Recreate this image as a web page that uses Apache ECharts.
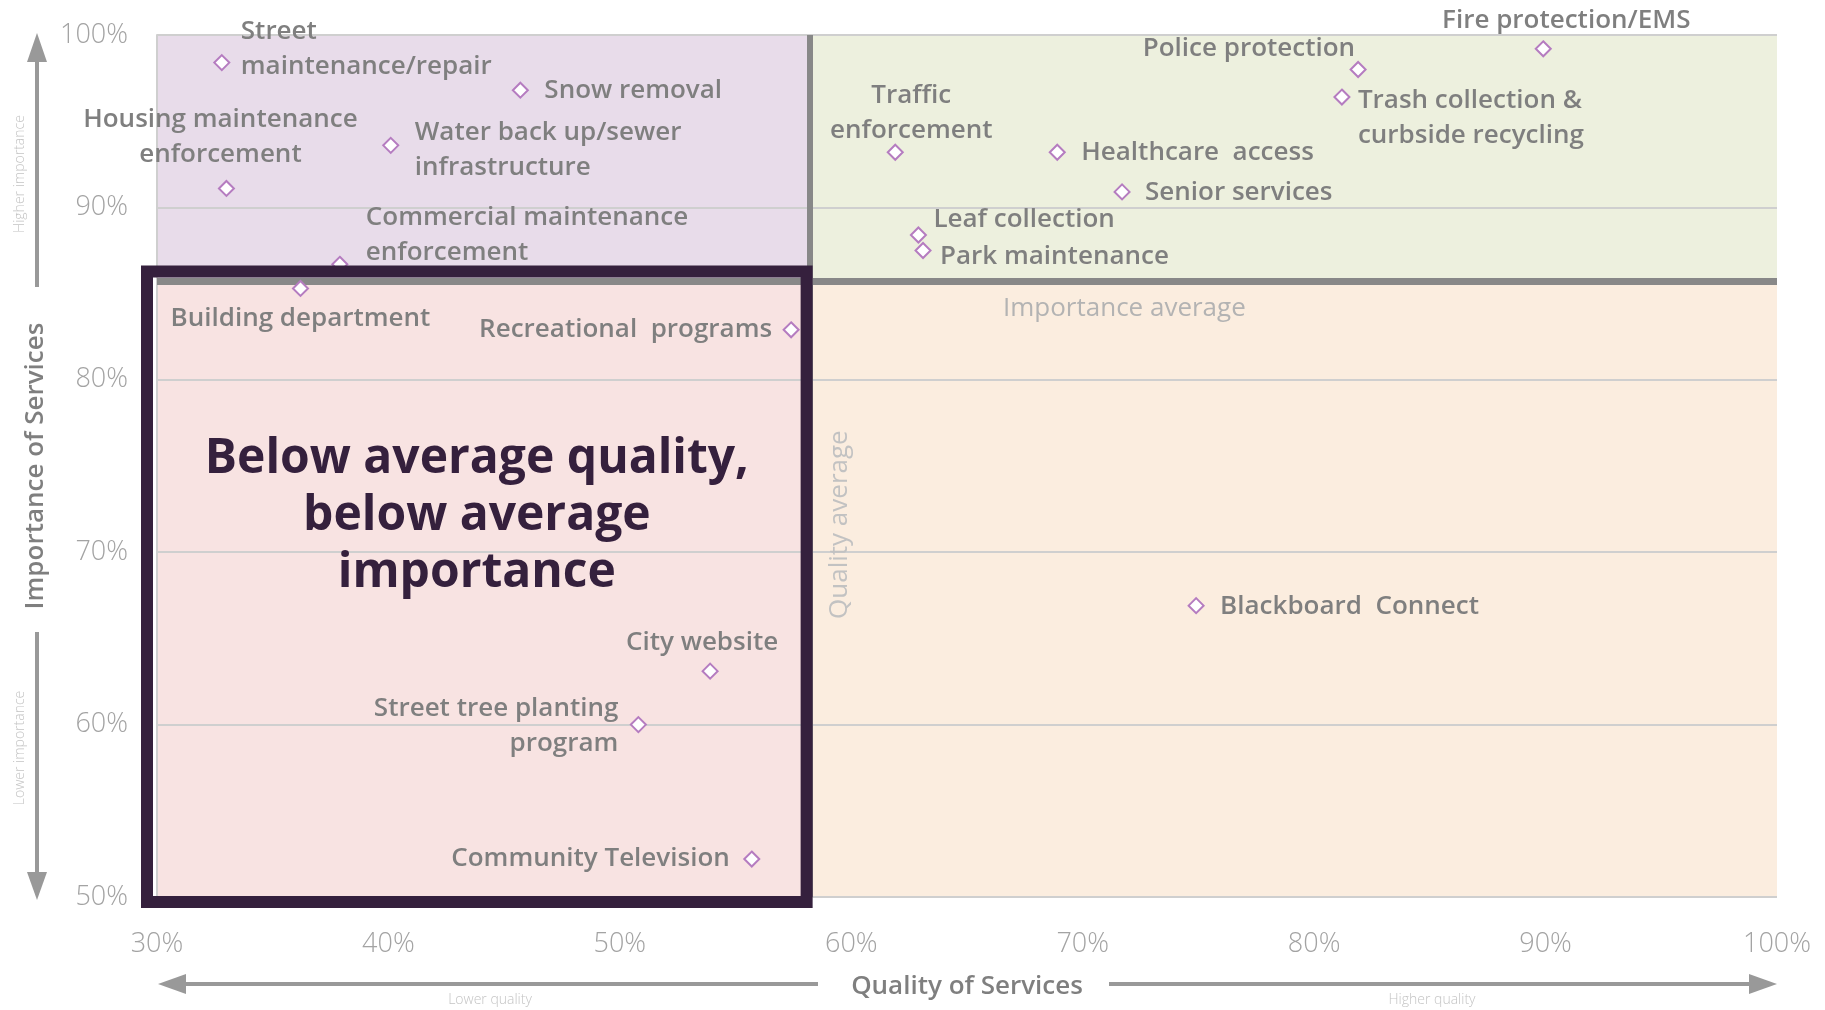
<!DOCTYPE html>
<html lang="en">
<head>
<meta charset="UTF-8">
<title>Quality vs Importance of Services</title>
<script src="https://cdn.jsdelivr.net/npm/echarts@6/dist/echarts.min.js"></script>
<style>
    * { margin: 0; padding: 0; }
    html, body { width: 100%; height: 100%; overflow: hidden; background: #fff; }
    .container { width: 1825px; height: 1010px; }
</style>
</head>
<body>
<div class="container"></div>
<script>
    // values (percent)
    const services = [
        'Street\nmaintenance/repair', 'Snow removal', 'Housing maintenance\nenforcement',
        'Water back up/sewer\ninfrastructure', 'Commercial maintenance\nenforcement', 'Building department',
        'Recreational  programs', 'City website', 'Street tree planting\nprogram', 'Community Television',
        'Traffic\nenforcement', 'Healthcare  access', 'Senior services', 'Leaf collection',
        'Park maintenance', 'Police protection', 'Trash collection &\ncurbside recycling',
        'Fire protection/EMS', 'Blackboard  Connect'
    ];
    const quality = [32.8, 45.7, 33.0, 40.1, 37.9, 36.2, 57.4, 53.9, 50.8, 55.7, 61.9, 68.9, 71.7, 62.9, 63.1, 81.9, 81.2, 89.9, 74.9];
    const importance = [98.4, 96.8, 91.1, 93.6, 86.7, 85.3, 82.9, 63.1, 60.0, 52.2, 93.2, 93.2, 90.9, 88.4, 87.5, 98.0, 96.4, 99.2, 66.9];
    const qualityAvg = 58.2;
    const importanceAvg = 85.7;

    // label placement per point: [align, dx, dy] in px from the marker centre
    const labelPlace = [
        ['left', 19, -13], ['left', 24, 0], ['center', -6, -51], ['left', 24, 5], ['left', 26, -29],
        ['center', 0, 30], ['right', -19, 0], ['center', -8, -29], ['right', -20, 1], ['right', -22, 0],
        ['center', 16, -39], ['left', 24, 0], ['left', 23, 1], ['left', 15, -15], ['left', 17, 6],
        ['right', -3, -21], ['left', 16, 21], ['center', 23, -28], ['left', 24, 1]
    ];

    const font = 'Open Sans';
    const grey = '#7f7f7f';

    let container = document.querySelector('.container');
    let chart = echarts.init(container);

    let points = services.map((name, i) => ({
        name: name,
        value: [quality[i], importance[i]],
        label: {
            position: 'inside',
            align: labelPlace[i][0],
            verticalAlign: 'middle',
            offset: [labelPlace[i][1], labelPlace[i][2]]
        }
    }));

    let option = {
        animation: false,
        backgroundColor: '#ffffff',
        grid: { left: 157, top: 35, right: 48, bottom: 113 },
        xAxis: {
            type: 'value', min: 30, max: 100, interval: 10,
            name: 'Quality of Services', nameLocation: 'middle', nameGap: 77,
            nameTextStyle: { fontFamily: font, fontWeight: 600, fontSize: 26, color: grey },
            axisLine: { show: false }, axisTick: { show: false }, splitLine: { show: false },
            axisLabel: { formatter: '{value}%', fontFamily: font, fontWeight: 300, fontSize: 27, color: '#a3a3a3', margin: 34 }
        },
        yAxis: {
            type: 'value', min: 50, max: 100, interval: 10, z: 3,
            name: 'Importance of Services', nameLocation: 'middle', nameGap: 107,
            nameTextStyle: { fontFamily: font, fontWeight: 600, fontSize: 26, color: grey },
            axisLine: { show: true, lineStyle: { color: '#cfcfcf', width: 2 } },
            axisTick: { show: false },
            splitLine: { lineStyle: { color: '#cfcfcf', width: 2 } },
            axisLabel: { formatter: '{value}%', fontFamily: font, fontWeight: 300, fontSize: 27, color: '#a3a3a3', margin: 29 }
        },
        series: [
            {
                type: 'scatter', z: 1, data: [], silent: true,
                markArea: {
                    silent: true,
                    data: [
                        [{ xAxis: 30, yAxis: importanceAvg, itemStyle: { color: '#e8dcea' } }, { xAxis: qualityAvg, yAxis: 100 }],
                        [{ xAxis: qualityAvg, yAxis: importanceAvg, itemStyle: { color: '#edf0de' } }, { xAxis: 100, yAxis: 100 }],
                        [{ xAxis: 30, yAxis: 50, itemStyle: { color: '#f8e3e2' } }, { xAxis: qualityAvg, yAxis: importanceAvg }],
                        [{ xAxis: qualityAvg, yAxis: 50, itemStyle: { color: '#fbeddf' } }, { xAxis: 100, yAxis: importanceAvg }]
                    ]
                },
                markLine: {
                    silent: true, symbol: 'none', label: { show: false },
                    data: [
                        { xAxis: qualityAvg, lineStyle: { color: '#888888', width: 6, type: 'solid' } },
                        { yAxis: importanceAvg, lineStyle: { color: '#888888', width: 7, type: 'solid' } }
                    ]
                }
            },
            {
                type: 'scatter', z: 5,
                symbol: 'diamond', symbolSize: 15,
                itemStyle: { color: '#ffffff', borderColor: '#b57cc0', borderWidth: 2, opacity: 1 },
                label: {
                    show: true, formatter: p => p.name,
                    fontFamily: font, fontWeight: 600, fontSize: 26, lineHeight: 35, color: grey
                },
                data: points
            }
        ]
    };
    chart.setOption(option);

    // annotation box round the lower left quadrant
    let p0 = chart.convertToPixel({ gridIndex: 0 }, [30, importanceAvg]);
    let p1 = chart.convertToPixel({ gridIndex: 0 }, [qualityAvg, 50]);
    let boxL = p0[0] - 10, boxT = p0[1] - 10, boxR = p1[0] - 3, boxB = p1[1] + 5;
    let avgLabel = chart.convertToPixel({ gridIndex: 0 }, [71.8, importanceAvg]);
    let qLabel = chart.convertToPixel({ gridIndex: 0 }, [qualityAvg, 71.6]);

    const arrow = '#999999';
    const small = { fontFamily: font, fontWeight: 300, fontSize: 14, fill: '#c4c4c4', align: 'center', verticalAlign: 'middle' };

    chart.setOption({
        graphic: [
            { type: 'rect', z: 20, shape: { x: boxL, y: boxT, width: boxR - boxL, height: boxB - boxT },
              style: { fill: null, stroke: '#35203d', lineWidth: 12 } },
            { type: 'text', z: 20, x: (boxL + boxR) / 2, y: 516,
              style: { text: 'Below average quality,\nbelow average\nimportance', fontFamily: font, fontWeight: 700,
                       fontSize: 48, lineHeight: 57, fill: '#35203d', align: 'center', verticalAlign: 'middle' } },
            { type: 'text', z: 10, x: avgLabel[0], y: avgLabel[1] + 27,
              style: { text: 'Importance average', fontFamily: font, fontWeight: 400, fontSize: 26, fill: '#b3b3b3',
                       align: 'center', verticalAlign: 'middle' } },
            { type: 'text', z: 10, x: qLabel[0] + 30, y: qLabel[1], rotation: Math.PI / 2,
              style: { text: 'Quality average', fontFamily: font, fontWeight: 400, fontSize: 26, fill: '#c2c2c2',
                       align: 'center', verticalAlign: 'middle' } },

            // vertical arrows
            { type: 'line', shape: { x1: 37, y1: 55, x2: 37, y2: 287 }, style: { stroke: arrow, lineWidth: 4 } },
            { type: 'polygon', shape: { points: [[37, 33], [27, 62], [47, 62]] }, style: { fill: arrow } },
            { type: 'line', shape: { x1: 37, y1: 632, x2: 37, y2: 880 }, style: { stroke: arrow, lineWidth: 4 } },
            { type: 'polygon', shape: { points: [[37, 900], [27, 872], [47, 872]] }, style: { fill: arrow } },
            { type: 'text', x: 20, y: 174, rotation: Math.PI / 2, style: Object.assign({ text: 'Higher importance' }, small) },
            { type: 'text', x: 20, y: 748, rotation: Math.PI / 2, style: Object.assign({ text: 'Lower importance' }, small) },

            // horizontal arrows
            { type: 'line', shape: { x1: 180, y1: 984, x2: 818, y2: 984 }, style: { stroke: arrow, lineWidth: 4 } },
            { type: 'polygon', shape: { points: [[158, 984], [186, 974], [186, 994]] }, style: { fill: arrow } },
            { type: 'line', shape: { x1: 1109, y1: 984, x2: 1755, y2: 984 }, style: { stroke: arrow, lineWidth: 4 } },
            { type: 'polygon', shape: { points: [[1777, 984], [1749, 974], [1749, 994]] }, style: { fill: arrow } },
            { type: 'text', x: 490, y: 1000, style: Object.assign({ text: 'Lower quality' }, small) },
            { type: 'text', x: 1432, y: 1000, style: Object.assign({ text: 'Higher quality' }, small) }
        ]
    });
</script>
</body>
</html>
